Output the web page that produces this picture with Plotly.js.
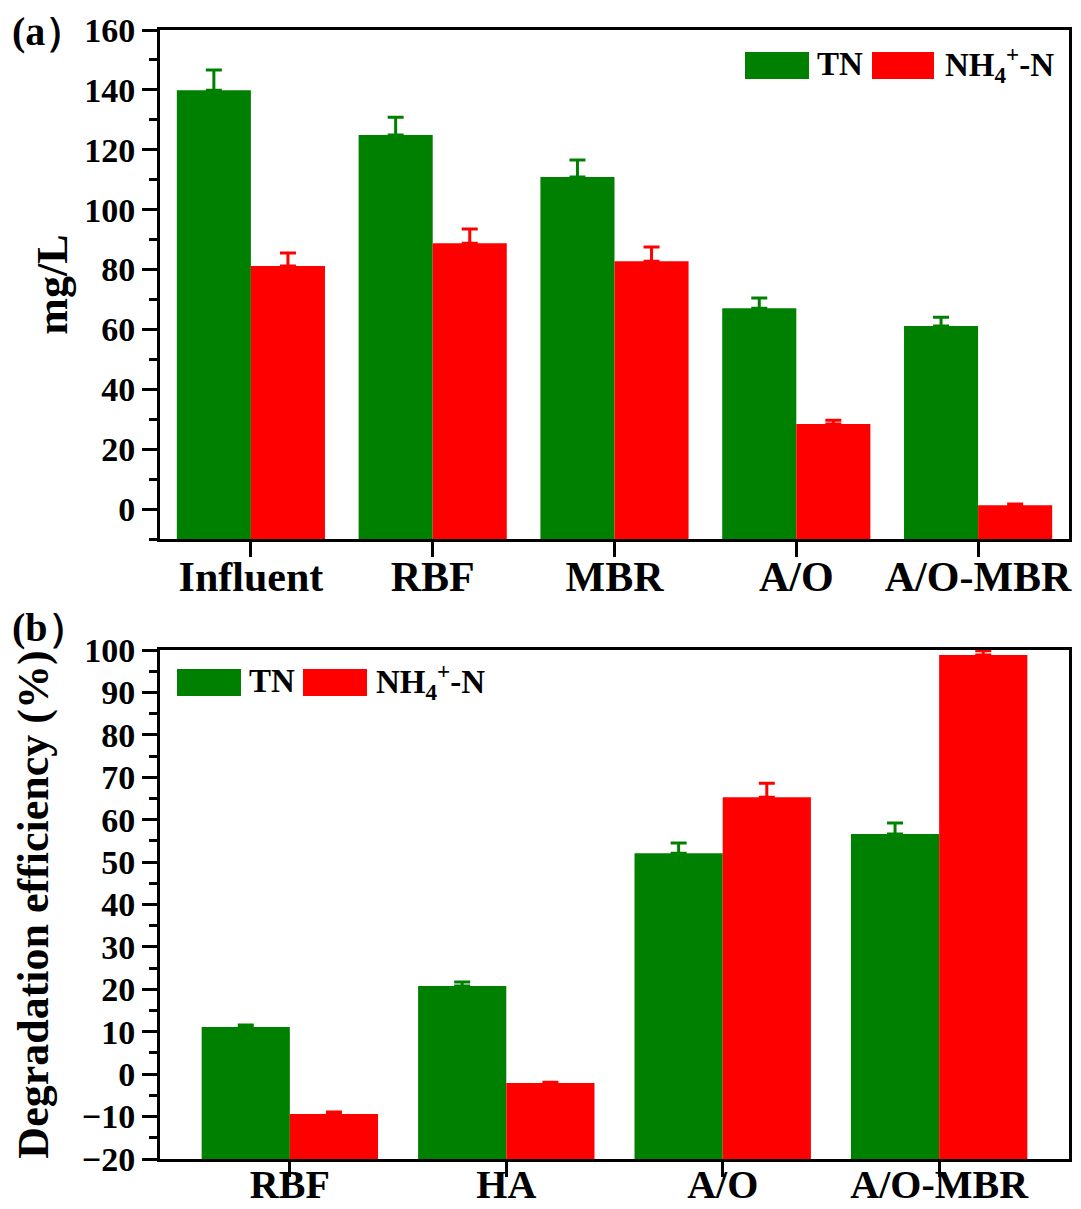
<!DOCTYPE html>
<html>
<head>
<meta charset="utf-8">
<script src="https://cdn.plot.ly/plotly-3.0.1.min.js"></script>
<style>html,body{margin:0;padding:0;background:#fff;}#chart{width:1081px;height:1209px;}</style>
</head>
<body>
<div id="chart"></div>
<script>
// ---- Data (a): concentrations, mg/L ----
const categoriesA = ['Influent', 'RBF', 'MBR', 'A/O', 'A/O-MBR'];
const tnA = [139.9, 124.9, 110.9, 67.1, 61.1];
const tnAErr = [6.7, 6.0, 5.7, 3.4, 3.0];
const nhA = [81.2, 88.8, 82.8, 28.4, 1.3];
const nhAErr = [4.3, 4.7, 4.7, 1.3, 0.4];

// ---- Data (b): degradation efficiency, % ----
const categoriesB = ['RBF', 'HA', 'A/O', 'A/O-MBR'];
const tnB = [11.1, 20.8, 52.1, 56.6];
const tnBErr = [0.5, 0.9, 2.4, 2.6];
const nhB = [-9.4, -2.1, 65.3, 98.8];
const nhBErr = [0.5, 0.2, 3.3, 1.0];

const seriesNames = ['TN', 'NH<sub>4</sub><sup>+</sup>-N'];
const GREEN = '#008000', RED = '#ff0000';
const FONT = '"Liberation Serif", "Times New Roman", serif';

// bars in the original start at the bottom of each value axis
const baseA = -10, baseB = -20;

function barTrace(cats, vals, errs, base, color, name, xa, ya) {
  return {
    type: 'bar', x: cats, y: vals.map(v => v - base), base: base,
    customdata: vals, hovertemplate: '%{x}: %{customdata}<extra>' + name + '</extra>',
    name: name, xaxis: xa, yaxis: ya, showlegend: false,
    marker: {color: color, line: {width: 0}},
    error_y: {type: 'data', symmetric: false, array: errs, arrayminus: errs.map(() => 0),
              color: color, thickness: 3, width: 8}
  };
}

const data = [
  barTrace(categoriesA, tnA, tnAErr, baseA, GREEN, seriesNames[0], 'x', 'y'),
  barTrace(categoriesA, nhA, nhAErr, baseA, RED, seriesNames[1], 'x', 'y'),
  barTrace(categoriesB, tnB, tnBErr, baseB, GREEN, seriesNames[0], 'x2', 'y2'),
  barTrace(categoriesB, nhB, nhBErr, baseB, RED, seriesNames[1], 'x2', 'y2')
];

// plot area in pixels
const L = 160, R = 1069, T = 30, B = 1159;
const px = x => (x - L) / (R - L);
const py = y => (B - y) / (B - T);

const axisCommon = {
  showline: true, linewidth: 3, linecolor: '#000', mirror: true,
  ticks: 'outside', tickwidth: 3, tickcolor: '#000', showgrid: false, zeroline: false
};

function legendShapes(g0, g1, r0, r1, y0, y1) {
  return [
    {type: 'rect', xref: 'paper', yref: 'paper', x0: px(g0), x1: px(g1), y0: py(y1), y1: py(y0),
     fillcolor: GREEN, line: {width: 0}},
    {type: 'rect', xref: 'paper', yref: 'paper', x0: px(r0), x1: px(r1), y0: py(y1), y1: py(y0),
     fillcolor: RED, line: {width: 0}}
  ];
}

const legFont = {family: FONT, size: 33, color: '#000', weight: 'bold'};
function legendTexts(tx, nx, yc) {
  return [
    {xref: 'paper', yref: 'paper', x: px(tx), y: py(yc), xanchor: 'left', yanchor: 'middle',
     text: seriesNames[0], showarrow: false, font: legFont},
    {xref: 'paper', yref: 'paper', x: px(nx), y: py(yc), xanchor: 'left', yanchor: 'middle',
     text: seriesNames[1], showarrow: false, font: legFont}
  ];
}

const panelFont = {family: FONT, size: 40, color: '#000', weight: 'bold'};
const tickFontY = {family: FONT, size: 34, color: '#000', weight: 'bold'};
const tickFontX = {family: FONT, size: 42, color: '#000', weight: 'bold'};
const tickFontX2 = {family: FONT, size: 40, color: '#000', weight: 'bold'};

const layout = {
  width: 1081, height: 1209,
  margin: {l: L, r: 1081 - R, t: T, b: 1209 - B, pad: 0},
  paper_bgcolor: '#fff', plot_bgcolor: '#fff',
  font: {family: FONT, color: '#000'},
  barmode: 'group', bargap: 0.185, bargroupgap: 0,
  showlegend: false,
  xaxis: Object.assign({}, axisCommon, {
    domain: [0, 1], anchor: 'y', type: 'category', range: [-0.5, 4.5], ticklen: 15,
    ticklabelstandoff: -16, tickfont: tickFontX
  }),
  yaxis: Object.assign({}, axisCommon, {
    domain: [py(539), 1], anchor: 'x', range: [-10, 160], tick0: 0, dtick: 20, ticklen: 15,
    minor: {dtick: 10, tick0: 0, ticklen: 8, tickwidth: 3, tickcolor: '#000', ticks: 'outside', showgrid: false},
    tickfont: tickFontY,
    title: {text: 'mg/L', standoff: 3, font: {family: FONT, size: 44, color: '#000', weight: 'bold'}}
  }),
  xaxis2: Object.assign({}, axisCommon, {
    domain: [0, 1], anchor: 'y2', type: 'category', range: [-0.6, 3.6], ticklen: 15,
    ticklabelstandoff: -27, tickfont: tickFontX2
  }),
  yaxis2: Object.assign({}, axisCommon, {
    domain: [0, py(650)], anchor: 'x2', range: [-20, 100], tick0: 0, dtick: 10, ticklen: 15,
    minor: {dtick: 5, tick0: 0, ticklen: 8, tickwidth: 3, tickcolor: '#000', ticks: 'outside', showgrid: false},
    tickfont: tickFontY,
    title: {text: 'Degradation efficiency (%)', standoff: 20, font: {family: FONT, size: 44, color: '#000', weight: 'bold'}}
  }),
  shapes: [].concat(
    legendShapes(745, 809, 872, 934, 52, 79),
    legendShapes(177, 241, 303, 367, 669, 696)
  ),
  annotations: [].concat(
    legendTexts(815, 943, 64),
    legendTexts(247, 374, 681),
    [
      {xref: 'paper', yref: 'paper', x: px(10), y: py(32), xanchor: 'left', yanchor: 'middle',
       text: '(a）', showarrow: false, font: panelFont},
      {xref: 'paper', yref: 'paper', x: px(10), y: py(627), xanchor: 'left', yanchor: 'middle',
       text: '(b）', showarrow: false, font: panelFont}
    ]
  )
};

Plotly.newPlot('chart', data, layout, {displayModeBar: false, staticPlot: true});
</script>
</body>
</html>
